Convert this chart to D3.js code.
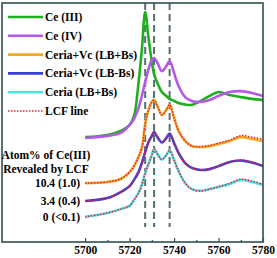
<!DOCTYPE html>
<html>
<head>
<meta charset="utf-8">
<script src="https://cdn.jsdelivr.net/npm/d3@7"></script>
<style>
  body { margin: 0; background: #fff; }
  text { font-family: "Liberation Serif", "Times New Roman", serif; font-weight: bold; }
</style>
</head>
<body>
<svg id="chart" width="277" height="258"></svg>
<script>
// photon energy (eV)
const energy = [5700, 5710, 5716, 5720, 5722, 5724, 5725.5, 5727, 5728.5, 5730, 5731, 5732.5,
  5734.5, 5736.5, 5738, 5740, 5742, 5745, 5748, 5752, 5756, 5760, 5765, 5770, 5775, 5780];

// normalized absorption, stacked with offsets
const ce3 = [3.51, 3.58, 3.72, 3.92, 4.22, 5.32, 6.43, 7.70, 6.83, 6.03, 5.62, 5.32,
  5.02, 4.89, 4.79, 4.72, 4.65, 4.60, 4.59, 4.72, 4.89, 5.02, 4.92, 4.85, 4.79, 4.75];
const ce4 = [3.48, 3.55, 3.65, 3.92, 4.12, 4.49, 4.89, 5.36, 5.79, 6.09, 6.16, 6.00,
  5.72, 5.89, 6.06, 5.66, 5.22, 4.85, 4.72, 4.69, 4.75, 4.89, 5.02, 5.05, 4.99, 4.89];
const vcPlus = [1.97, 2.01, 2.11, 2.34, 2.54, 2.85, 3.15, 3.95, 4.42, 4.69, 4.75, 4.55,
  4.25, 4.42, 4.59, 4.15, 3.72, 3.38, 3.21, 3.18, 3.21, 3.28, 3.38, 3.51, 3.45, 3.38];
const vcMinus = [1.37, 1.47, 1.67, 1.87, 2.08, 2.34, 2.64, 3.01, 3.35, 3.55, 3.68, 3.51,
  3.33, 3.48, 3.63, 3.31, 2.98, 2.64, 2.48, 2.41, 2.44, 2.54, 2.68, 2.73, 2.66, 2.54];
const ceria = [0.84, 0.97, 1.10, 1.21, 1.41, 1.64, 1.91, 2.31, 2.61, 2.91, 3.11, 2.95,
  2.76, 2.91, 3.06, 2.74, 2.38, 1.97, 1.77, 1.71, 1.77, 1.84, 1.94, 2.08, 2.01, 1.91];

// LCF fits
const lcfVcPlus = [1.97, 2.01, 2.11, 2.34, 2.54, 2.85, 3.15, 3.95, 4.42, 4.69, 4.75, 4.55,
  4.25, 4.42, 4.59, 4.15, 3.72, 3.38, 3.21, 3.19, 3.23, 3.31, 3.41, 3.56, 3.51, 3.45];
const lcfVcMinus = [1.37, 1.47, 1.67, 1.87, 2.08, 2.34, 2.64, 3.01, 3.35, 3.55, 3.68, 3.51,
  3.33, 3.48, 3.63, 3.31, 2.98, 2.64, 2.48, 2.41, 2.44, 2.55, 2.69, 2.75, 2.68, 2.56];
const lcfCeria = [0.84, 0.97, 1.10, 1.21, 1.41, 1.64, 1.91, 2.31, 2.61, 2.91, 3.11, 2.95,
  2.76, 2.91, 3.06, 2.74, 2.38, 1.97, 1.77, 1.71, 1.77, 1.85, 1.96, 2.10, 2.04, 1.93];

const guideLines = [5727, 5731, 5738];
const majorTicks = [5700, 5720, 5740, 5760, 5780];
const minorTicks = [5710, 5730, 5750, 5770];

const legendNames = ["Ce (III)", "Ce (IV)", "Ceria+Vc (LB+Bs)", "Ceria+Vc (LB-Bs)", "Ceria (LB+Bs)", "LCF line"];
const legendColors = ["#1fae1f", "#b557ea", "#f7a81e", "#3a3fd6", "#4fe3ea", "#e8213a"];
const lcfLabels = ["10.4 (1.0)", "3.4 (0.4)", "0 (<0.1)"];

const svg = d3.select("#chart");
const plotLeft = 2, plotRight = 263, plotTop = 3, plotBottom = 242;

let x = d3.scaleLinear().domain([5662.6, 5780]).range([plotLeft, plotRight]);
let y = d3.scaleLinear().domain([0, 8]).range([plotBottom, plotTop]);

let line = d3.line()
  .x((d) => x(d[0]))
  .y((d) => y(d[1]))
  .curve(d3.curveCatmullRom.alpha(0.5));

let pairs = (vals) => energy.map((e, i) => [e, vals[i]]);

// dashed guides
svg.append("g")
  .selectAll("line")
  .data(guideLines)
  .enter()
  .append("line")
  .attr("x1", (d) => x(d))
  .attr("x2", (d) => x(d))
  .attr("y1", y(8))
  .attr("y2", y(0.5))
  .attr("stroke", "#55706f")
  .attr("stroke-width", 2)
  .attr("stroke-dasharray", "7,4");

let spectra = [ce3, ce4, vcPlus, vcMinus, ceria];
svg.append("g")
  .selectAll("path")
  .data(spectra)
  .enter()
  .append("path")
  .attr("d", (d) => line(pairs(d)))
  .attr("fill", "none")
  .attr("stroke", (d, i) => legendColors[i])
  .attr("stroke-width", 2.6);

svg.append("g")
  .selectAll("path")
  .data([lcfVcPlus, lcfVcMinus, lcfCeria])
  .enter()
  .append("path")
  .attr("d", (d) => line(pairs(d)))
  .attr("fill", "none")
  .attr("stroke", legendColors[5])
  .attr("stroke-width", 1.5)
  .attr("stroke-dasharray", "1.5,1.5");

// axis
let axis = svg.append("g").attr("transform", `translate(0, ${plotBottom})`);
axis.call(
  d3.axisBottom(x)
    .tickValues(majorTicks)
    .tickFormat(d3.format("d"))
    .tickSizeInner(-4)
    .tickSizeOuter(0)
    .tickPadding(4)
);
axis.attr("font-size", 11.5).attr("font-family", "'Liberation Serif', serif");
axis.call((g) => g.select(".domain").remove());
axis.selectAll("line").attr("stroke", "#2f4f4f").attr("stroke-width", 1.2);
axis.selectAll("text").attr("fill", "#000");

let minor = svg.append("g").attr("transform", `translate(0, ${plotBottom})`);
minor.call(d3.axisBottom(x).tickValues(minorTicks).tickSize(-2).tickFormat(""));
minor.call((g) => g.select(".domain").remove());
minor.selectAll("line").attr("stroke", "#2f4f4f").attr("stroke-width", 1.2);

// frame
svg.append("rect")
  .attr("x", plotLeft)
  .attr("y", plotTop)
  .attr("width", plotRight - plotLeft)
  .attr("height", plotBottom - plotTop)
  .attr("fill", "none")
  .attr("stroke", "#2f4f4f")
  .attr("stroke-width", 1.6);

// legend
let legend = svg.append("g");
let rows = legend.selectAll("g")
  .data(legendNames)
  .enter()
  .append("g")
  .attr("transform", (d, i) => `translate(0, ${17 + i * 18.8})`);

rows.append("line")
  .attr("x1", 8)
  .attr("x2", 43)
  .attr("stroke", (d, i) => legendColors[i])
  .attr("stroke-width", (d, i) => (i === 5 ? 1.6 : 2.6))
  .attr("stroke-dasharray", (d, i) => (i === 5 ? "1.5,1.5" : null));

rows.append("text")
  .text((d) => d)
  .attr("x", 45)
  .attr("y", 4)
  .attr("font-size", 11.5)
  .attr("fill", "#000");

// LCF annotation
svg.append("text")
  .text("Atom% of Ce(III)")
  .attr("x", 46)
  .attr("y", 159)
  .attr("text-anchor", "middle")
  .attr("font-size", 11.5);

svg.append("text")
  .text("Revealed by LCF")
  .attr("x", 46)
  .attr("y", 173)
  .attr("text-anchor", "middle")
  .attr("font-size", 11.5);

svg.append("g")
  .selectAll("text")
  .data(lcfLabels)
  .enter()
  .append("text")
  .text((d) => d)
  .attr("x", 80)
  .attr("y", (d, i) => y([vcPlus, vcMinus, ceria][i][0]) + 4)
  .attr("text-anchor", "end")
  .attr("font-size", 11.5);
</script>
</body>
</html>
